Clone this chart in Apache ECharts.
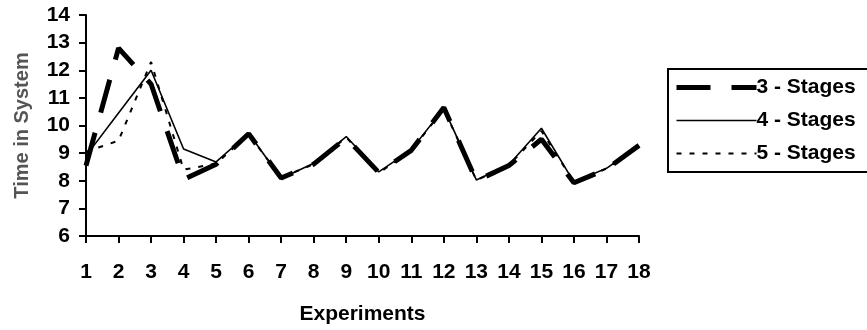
<!DOCTYPE html>
<html>
<head>
<meta charset="utf-8">
<script src="https://cdn.jsdelivr.net/npm/echarts@6/dist/echarts.min.js"></script>
<style>
html,body{margin:0;padding:0;background:#fff;}
#chart{width:867px;height:330px;}
</style>
</head>
<body>
<div id="chart"></div>
<script>
var categories = ['1','2','3','4','5','6','7','8','9','10','11','12','13','14','15','16','17','18'];
var stages3 = [8.55, 12.8, 11.5, 8.05, 8.6, 9.7, 8.1, 8.6, 9.55, 8.3, 9.1, 10.65, 8.0, 8.55, 9.5, 7.93, 8.42, 9.28];
var stages4 = [8.9, 10.45, 12.0, 9.15, 8.68, 9.72, 8.08, 8.63, 9.6, 8.32, 9.12, 10.62, 8.03, 8.58, 9.9, 7.95, 8.45, 9.27];
var stages5 = [9.05, 9.45, 12.3, 8.4, 8.62, 9.68, 8.12, 8.6, 9.57, 8.28, 9.1, 10.6, 8.02, 8.56, 9.8, 7.96, 8.44, 9.26];
var seriesNames = ['3 - Stages', '4 - Stages', '5 - Stages'];
var yMin = 6, yMax = 14, yStep = 1;

var font = '"Liberation Sans", Arial, sans-serif';
var chart = echarts.init(document.getElementById('chart'), null, {renderer: 'canvas'});
chart.setOption({
  animation: false,
  backgroundColor: '#fff',
  grid: {left: 86, right: 228, top: 15, bottom: 89, containLabel: false},
  legend: {
    orient: 'vertical',
    left: 668, top: 69,
    padding: [8, 24, 8, 6],
    itemWidth: 80, itemHeight: 20, itemGap: 12,
    borderColor: '#000', borderWidth: 2,
    itemStyle: {opacity: 0},
    lineStyle: {width: 'inherit', type: 'inherit', cap: 'butt'},
    textStyle: {fontFamily: font, fontWeight: 'bold', fontSize: 21, color: '#000', padding: [0,0,0,-5]},
    data: seriesNames
  },
  xAxis: {
    type: 'category',
    data: categories,
    boundaryGap: false,
    name: 'Experiments',
    nameLocation: 'middle',
    nameGap: 68,
    nameTextStyle: {fontFamily: font, fontWeight: 'bold', fontSize: 21, color: '#000'},
    axisLine: {lineStyle: {color: '#000', width: 2}},
    axisTick: {show: true, length: 7, interval: 0, lineStyle: {color: '#000', width: 2}},
    axisLabel: {interval: 0, margin: 26, fontFamily: font, fontWeight: 'bold', fontSize: 21, color: '#000'},
    splitLine: {show: false}
  },
  yAxis: {
    type: 'value',
    min: yMin, max: yMax, interval: yStep,
    name: 'Time in System',
    nameLocation: 'middle',
    nameGap: 54,
    nameTextStyle: {fontFamily: font, fontWeight: 'bold', fontSize: 20, color: '#555'},
    axisLine: {show: true, lineStyle: {color: '#000', width: 2}},
    axisTick: {show: true, length: 7, lineStyle: {color: '#000', width: 2}},
    axisLabel: {margin: 16, fontFamily: font, fontWeight: 'bold', fontSize: 21, color: '#000'},
    splitLine: {show: false}
  },
  series: [
    {name: seriesNames[0], type: 'line', data: stages3, symbol: 'none', showSymbol: false,
     lineStyle: {color: '#000', width: 5, type: [34, 21], cap: 'butt'}, itemStyle: {color: '#000'}},
    {name: seriesNames[1], type: 'line', data: stages4, symbol: 'none', showSymbol: false,
     lineStyle: {color: '#000', width: 1.6, type: 'solid'}, itemStyle: {color: '#000'}},
    {name: seriesNames[2], type: 'line', data: stages5, symbol: 'none', showSymbol: false,
     lineStyle: {color: '#000', width: 2, type: [5, 8]}, itemStyle: {color: '#000'}}
  ]
});
</script>
</body>
</html>
